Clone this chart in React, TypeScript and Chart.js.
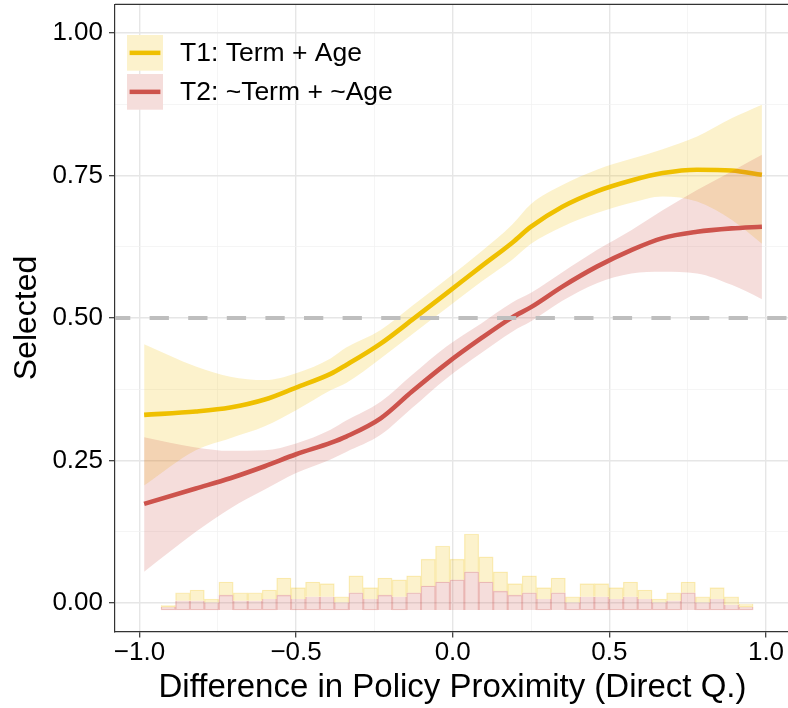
import React, { useEffect, useRef } from 'react';
import { Chart, registerables } from 'chart.js';

Chart.register(...registerables);

const FONT = "'Liberation Sans', Arial, Helvetica, sans-serif";

// Smoothed fits with confidence bands, evaluated along the proximity axis
const X_GRID = [-0.985, -0.82, -0.71, -0.6, -0.5, -0.39, -0.34, -0.23, -0.13, -0.02, 0.09, 0.19, 0.25, 0.35, 0.46, 0.57, 0.67, 0.78, 0.89, 0.987];

const T1_FIT = [0.330, 0.336, 0.343, 0.357, 0.378, 0.402, 0.4175, 0.455, 0.4965, 0.543, 0.590, 0.632, 0.660, 0.695, 0.722, 0.741, 0.754, 0.760, 0.7585, 0.751];
const T1_HIGH = [0.454, 0.415, 0.397, 0.391, 0.403, 0.429, 0.448, 0.479, 0.521, 0.568, 0.616, 0.664, 0.700, 0.733, 0.760, 0.779, 0.796, 0.818, 0.850, 0.874];
const T1_LOW = [0.206, 0.268, 0.289, 0.310, 0.338, 0.373, 0.386, 0.429, 0.471, 0.517, 0.563, 0.602, 0.630, 0.660, 0.684, 0.702, 0.713, 0.704, 0.672, 0.630];

const T2_FIT = [0.174, 0.201, 0.219, 0.240, 0.261, 0.281, 0.292, 0.324, 0.371, 0.420, 0.464, 0.501, 0.519, 0.555, 0.590, 0.619, 0.640, 0.651, 0.657, 0.660];
const T2_HIGH = [0.291, 0.273, 0.267, 0.268, 0.280, 0.304, 0.320, 0.353, 0.400, 0.450, 0.490, 0.527, 0.544, 0.580, 0.619, 0.654, 0.689, 0.7245, 0.757, 0.786];
const T2_LOW = [0.055, 0.125, 0.166, 0.199, 0.228, 0.252, 0.265, 0.295, 0.342, 0.394, 0.438, 0.476, 0.494, 0.530, 0.561, 0.578, 0.581, 0.578, 0.558, 0.533];

// Stacked histogram of the proximity distribution (heights in axis units)
const HIST_START = -0.931;
const HIST_BIN = 0.0461;
const HIST_BASE = -0.012;
const HIST_T2 = [0.005, 0.016, 0.016, 0.013, 0.026, 0.016, 0.016, 0.019, 0.026, 0.019, 0.023, 0.023, 0.013, 0.030, 0.019, 0.026, 0.023, 0.030, 0.042, 0.049, 0.053, 0.067, 0.049, 0.033, 0.026, 0.030, 0.019, 0.030, 0.013, 0.023, 0.023, 0.019, 0.023, 0.019, 0.013, 0.016, 0.030, 0.013, 0.019, 0.009, 0.005];
const HIST_T1 = [0.003, 0.014, 0.019, 0.006, 0.023, 0.014, 0.014, 0.016, 0.030, 0.020, 0.026, 0.023, 0.010, 0.030, 0.020, 0.030, 0.030, 0.030, 0.047, 0.063, 0.036, 0.066, 0.044, 0.034, 0.020, 0.030, 0.020, 0.026, 0.010, 0.023, 0.023, 0.020, 0.026, 0.016, 0.006, 0.014, 0.019, 0.010, 0.020, 0.014, 0.007];

const SERIES = ['T1: Term + Age', 'T2: ~Term + ~Age'];
const LINE_COLORS = ['#EFC000', '#CD534C'];
const FILL_COLORS = ['rgba(239,192,0,0.2)', 'rgba(205,83,76,0.2)'];
const EDGE_COLORS = ['rgba(239,192,0,0.22)', 'rgba(205,83,76,0.3)'];

const X_MIN = -1.078;
const X_MAX = 1.0766;
const Y_MIN = -0.05;
const Y_MAX = 1.05;
const X_TICKS = [-1, -0.75, -0.5, -0.25, 0, 0.25, 0.5, 0.75, 1];
const X_LABELS: Record<string, string> = { '-1': '\u22121.0', '-0.5': '\u22120.5', '0': '0.0', '0.5': '0.5', '1': '1.0' };
const Y_TICKS = [0, 0.125, 0.25, 0.375, 0.5, 0.625, 0.75, 0.875, 1];
const Y_LABELS: Record<string, string> = { '0': '0.00', '0.25': '0.25', '0.5': '0.50', '0.75': '0.75', '1': '1.00' };
const REF_LINE = 0.5;
const X_TITLE = 'Difference in Policy Proximity (Direct Q.)';
const Y_TITLE = 'Selected';

// visible frame; the panel runs on past its right edge
const W = 788;
const H = 708;
const CANVAS_W = 800;
const PLOT_RIGHT_PAD = 10;
const PLOT_TOP = 4.3;
const PLOT_BOTTOM = 631.6;
const PLOT_LEFT = 115;

const pts = (ys: number[]) => X_GRID.map((x, i) => ({ x, y: ys[i] }));

const legendPlugin = {
  id: 'smoothLegend',
  afterDraw(chart: any) {
    const { ctx, chartArea } = chart;
    ctx.save();
    // top edge of the panel
    ctx.beginPath();
    ctx.strokeStyle = '#333333';
    ctx.lineWidth = 1.2;
    ctx.moveTo(chartArea.left, chartArea.top);
    ctx.lineTo(chartArea.right, chartArea.top);
    ctx.stroke();

    const kx = chartArea.left + 12;
    const kw = 36;
    const kh = 35.7;
    const tops = [chartArea.top + 30.7, chartArea.top + 69.7];
    SERIES.forEach((name, i) => {
      const ky = tops[i];
      ctx.fillStyle = '#ffffff';
      ctx.fillRect(kx, ky, kw, kh);
      ctx.fillStyle = FILL_COLORS[i];
      ctx.fillRect(kx, ky, kw, kh);
      ctx.strokeStyle = LINE_COLORS[i];
      ctx.lineWidth = 4.5;
      ctx.beginPath();
      ctx.moveTo(kx + 2.6, ky + kh / 2);
      ctx.lineTo(kx + kw - 2.6, ky + kh / 2);
      ctx.stroke();
      ctx.fillStyle = '#000000';
      ctx.font = `26.5px ${FONT}`;
      ctx.textBaseline = 'middle';
      ctx.textAlign = 'left';
      ctx.fillText(name, kx + 53, ky + kh / 2 + 1);
    });
    ctx.restore();
  },
};

const tickValue = (c: any) => (c && c.tick ? Number(c.tick.value) : NaN);
const isMajorX = (c: any) => {
  const v = tickValue(c);
  return Number.isFinite(v) && Math.abs(v * 2 - Math.round(v * 2)) < 1e-6;
};
const isMajorY = (c: any) => {
  const v = tickValue(c);
  return Number.isFinite(v) && Math.abs(v * 4 - Math.round(v * 4)) < 1e-6;
};
const key = (v: number) => String(Math.round(v * 1000) / 1000);

const noPad = (s: any) => {
  s.paddingTop = 0;
  s.paddingBottom = 0;
  s.paddingLeft = 0;
  s.paddingRight = 0;
};

export default function App() {
  const ref = useRef<HTMLCanvasElement | null>(null);

  useEffect(() => {
    document.body.style.margin = '0';
    const canvas = ref.current;
    if (!canvas) return;

    const centers = HIST_T2.map((_, i) => HIST_START + (i + 0.5) * HIST_BIN);
    const t2Bars = centers.map((x, i) => ({ x, y: [HIST_BASE, HIST_BASE + HIST_T2[i]] }));
    const t1Bars = centers.map((x, i) => ({ x, y: [HIST_BASE + HIST_T2[i], HIST_BASE + HIST_T2[i] + HIST_T1[i]] }));

    const band = (low: number[], high: number[], i: number, order: number) => [
      {
        type: 'line', data: pts(low), borderWidth: 0, borderColor: 'rgba(0,0,0,0)',
        pointRadius: 0, fill: false, cubicInterpolationMode: 'monotone', order,
      },
      {
        type: 'line', data: pts(high), borderWidth: 0, borderColor: 'rgba(0,0,0,0)',
        pointRadius: 0, fill: '-1', backgroundColor: FILL_COLORS[i], cubicInterpolationMode: 'monotone', order,
      },
    ];

    const chart = new Chart(canvas, {
      type: 'line',
      data: {
        datasets: [
          {
            type: 'bar', data: t2Bars, backgroundColor: FILL_COLORS[1], borderColor: EDGE_COLORS[1],
            borderWidth: 0.7, borderSkipped: 'start', grouped: false, barPercentage: 1, categoryPercentage: 1, order: 6,
          },
          {
            type: 'bar', data: t1Bars, backgroundColor: FILL_COLORS[0], borderColor: EDGE_COLORS[0],
            borderWidth: 0.7, borderSkipped: 'start', grouped: false, barPercentage: 1, categoryPercentage: 1, order: 5,
          },
          ...band(T1_LOW, T1_HIGH, 0, 4),
          {
            type: 'line', label: SERIES[0], data: pts(T1_FIT), borderColor: LINE_COLORS[0], borderWidth: 4.6,
            pointRadius: 0, fill: false, cubicInterpolationMode: 'monotone', order: 3,
          },
          ...band(T2_LOW, T2_HIGH, 1, 2),
          {
            type: 'line', label: SERIES[1], data: pts(T2_FIT), borderColor: LINE_COLORS[1], borderWidth: 4.6,
            pointRadius: 0, fill: false, cubicInterpolationMode: 'monotone', order: 1,
          },
          {
            type: 'line', data: [{ x: X_MIN, y: REF_LINE }, { x: X_MAX, y: REF_LINE }], borderColor: '#bebebe',
            borderWidth: 4, borderDash: [19.3, 19.3], borderDashOffset: 4, pointRadius: 0, fill: false, order: 0,
          },
        ] as any,
      },
      options: {
        responsive: false,
        devicePixelRatio: 1,
        animation: false,
        events: [],
        layout: { padding: { top: PLOT_TOP, right: PLOT_RIGHT_PAD, left: 0, bottom: 0 } },
        plugins: { legend: { display: false }, tooltip: { enabled: false } },
        scales: {
          x: {
            type: 'linear', min: X_MIN, max: X_MAX, offset: false,
            afterBuildTicks: (s: any) => { s.ticks = X_TICKS.map((v) => ({ value: v })); },
            afterFit: (s: any) => { s.height = H - PLOT_BOTTOM; noPad(s); },
            grid: {
              offset: false,
              color: (c: any) => (isMajorX(c) ? '#e6e6e6' : '#f0f0f0'),
              lineWidth: (c: any) => (isMajorX(c) ? 1.4 : 0.7),
              tickColor: (c: any) => (isMajorX(c) ? '#333333' : 'rgba(0,0,0,0)'),
              tickLength: 6, tickWidth: 1.2,
            },
            border: { display: true, color: '#333333', width: 1.2 },
            ticks: {
              autoSkip: false, maxRotation: 0, padding: 0, color: '#000000',
              font: { family: FONT, size: 26 },
              callback: (v: any) => X_LABELS[key(Number(v))] ?? '',
            },
            title: {
              display: true, text: X_TITLE, color: '#000000',
              font: { family: FONT, size: 33, lineHeight: 1.2 }, padding: { top: 0, bottom: 0 },
            },
          },
          y: {
            type: 'linear', min: Y_MIN, max: Y_MAX,
            afterBuildTicks: (s: any) => { s.ticks = Y_TICKS.map((v) => ({ value: v })); },
            afterFit: (s: any) => { s.width = PLOT_LEFT; noPad(s); },
            grid: {
              offset: false,
              color: (c: any) => (isMajorY(c) ? '#e6e6e6' : '#f0f0f0'),
              lineWidth: (c: any) => (isMajorY(c) ? 1.4 : 0.7),
              tickColor: (c: any) => (isMajorY(c) ? '#333333' : 'rgba(0,0,0,0)'),
              tickLength: 6, tickWidth: 1.2,
            },
            border: { display: true, color: '#333333', width: 1.2 },
            ticks: {
              autoSkip: false, padding: 6, color: '#000000',
              font: { family: FONT, size: 26 },
              callback: (v: any) => Y_LABELS[key(Number(v))] ?? '',
            },
            title: {
              display: true, text: Y_TITLE, color: '#000000',
              font: { family: FONT, size: 32, lineHeight: 1.2 }, padding: { top: 8, bottom: 0 },
            },
          },
        },
      } as any,
      plugins: [legendPlugin],
    });

    return () => chart.destroy();
  }, []);

  return (
    <div style={{ width: W, height: H, position: 'relative', overflow: 'hidden' }}>
      <canvas ref={ref} width={CANVAS_W} height={H} style={{ display: 'block', position: 'absolute', left: 0, top: 0 }} />
    </div>
  );
}
